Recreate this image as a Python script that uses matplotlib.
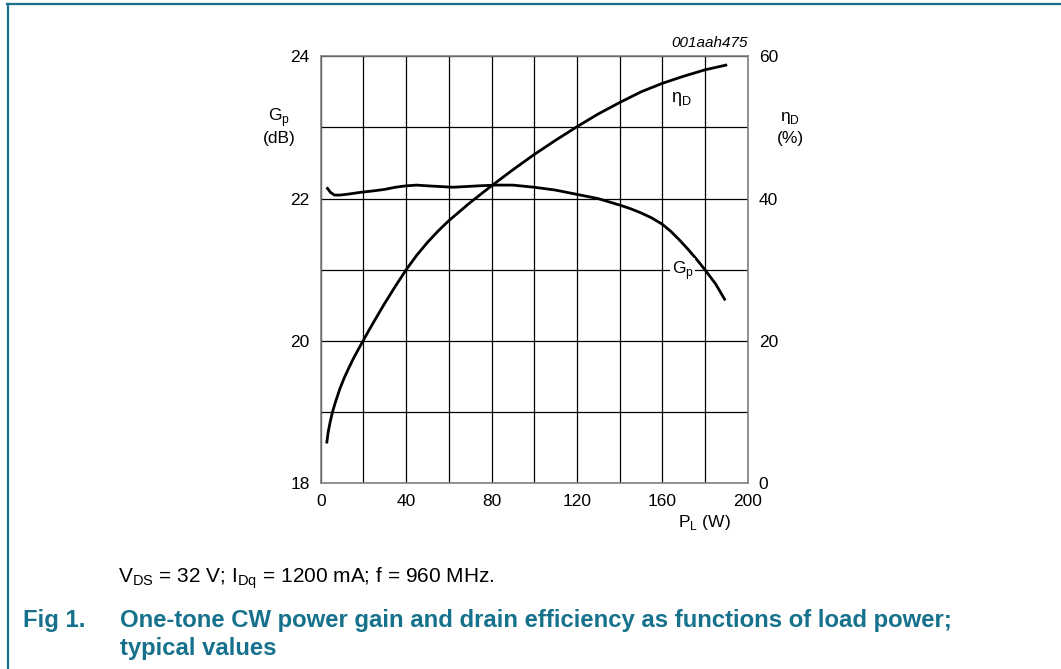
import matplotlib.pyplot as plt
from matplotlib.lines import Line2D

plt.rcParams['font.family'] = ['Liberation Sans', 'DejaVu Sans']

# load power (W) and power gain (dB)
pl_gain = [2.8, 4.5, 6.4, 9, 12, 19, 25, 30, 35, 40, 45, 50, 56, 62, 68, 74, 82, 90, 100, 110, 120, 130,
           140, 145, 150, 155, 160, 164, 168, 172, 176, 180, 185, 189.5]
gain = [22.16, 22.09, 22.05, 22.05, 22.06, 22.09, 22.11, 22.13, 22.16, 22.18, 22.19, 22.18, 22.17, 22.16,
        22.17, 22.18, 22.19, 22.19, 22.16, 22.12, 22.06, 22.0, 21.91, 21.86, 21.80, 21.73, 21.64, 21.54,
        21.42, 21.29, 21.15, 21.0, 20.8, 20.57]

# load power (W) and drain efficiency (%)
pl_eff = [2.8, 3.5, 4.5, 5.5, 7, 9, 11, 13, 15, 17.5, 20, 22.5, 25, 30, 35, 40, 45, 50, 55, 60, 70, 80,
          90, 100, 110, 120, 130, 140, 150, 160, 170, 180, 190.4]
eff = [5.6, 7.2, 8.7, 10.0, 11.5, 13.3, 14.8, 16.1, 17.35, 18.75, 20.1, 21.45, 22.75, 25.3, 27.7, 30.0,
       32.05, 33.85, 35.45, 36.9, 39.45, 41.8, 44.05, 46.2, 48.2, 50.1, 51.9, 53.5, 55.0, 56.2, 57.2, 58.1, 58.8]

x_ticks = [0, 40, 80, 120, 160, 200]
gain_ticks = [18, 20, 22, 24]
eff_ticks = [0, 20, 40, 60]

W, H = 1061, 669
teal = '#16718c'

fig = plt.figure(figsize=(W / 100, H / 100), dpi=100)
ax = fig.add_axes([320.7 / W, 1 - 483.3 / H, 427 / W, 427 / H])

ax.set_xlim(0, 200)
ax.set_ylim(18, 24)
ax.set_xticks(range(0, 201, 20))
ax.set_xticklabels([str(v) if v in x_ticks else '' for v in range(0, 201, 20)])
ax.set_yticks(range(18, 25))
ax.set_yticklabels([str(v) if v in gain_ticks else '' for v in range(18, 25)])
ax.grid(True, color='black', lw=0.9)
ax.tick_params(length=0, labelsize=12.5, pad=8)
for s in ax.spines.values():
    s.set_color('#808080')
    s.set_linewidth(1.2)

ax.plot(pl_gain, gain, color='black', lw=2.0, solid_capstyle='butt', zorder=3)

ax2 = ax.twinx()
ax2.set_ylim(0, 60)
ax2.set_yticks(eff_ticks)
ax2.tick_params(length=0, labelsize=12.5, pad=8)
for s in ax2.spines.values():
    s.set_visible(False)
ax2.plot(pl_eff, eff, color='black', lw=2.0, solid_capstyle='butt', zorder=3)

eta_d = r'$\mathregular{η}_\mathregular{D}$'
gp = r'G$_\mathregular{p}$'

# curve labels
ax.text(169, 23.4, eta_d, fontsize=13, ha='center', va='center')
ax.text(169.5, 20.99, gp, fontsize=12.5, ha='center', va='center',
        bbox=dict(facecolor='white', edgecolor='none', pad=1.0), zorder=4)

# axis titles
fig.text(279 / W, 1 - 118 / H, gp, fontsize=12.5, ha='center', va='center')
fig.text(279 / W, 1 - 138 / H, '(dB)', fontsize=12.5, ha='center', va='center')
fig.text(790 / W, 1 - 118 / H, eta_d, fontsize=12.5, ha='center', va='center')
fig.text(790 / W, 1 - 138 / H, '(%)', fontsize=12.5, ha='center', va='center')
fig.text(704 / W, 1 - 522 / H, r'P$_\mathregular{L}$ (W)', fontsize=12.5, ha='center', va='center')
fig.text(748 / W, 1 - 43 / H, '001aah475', fontsize=11, style='italic', ha='right', va='center')

# caption
fig.text(118 / W, 1 - 578 / H, r'V$_\mathregular{DS}$ = 32 V; I$_\mathregular{Dq}$ = 1200 mA; f = 960 MHz.',
         fontsize=15, ha='left', va='center')
fig.text(23 / W, 1 - 620 / H, 'Fig 1.', fontsize=17.2, weight='bold', color=teal, ha='left', va='center')
fig.text(120 / W, 1 - 620 / H, 'One-tone CW power gain and drain efficiency as functions of load power;',
         fontsize=17.2, weight='bold', color=teal, ha='left', va='center')
fig.text(120 / W, 1 - 648 / H, 'typical values', fontsize=17.2, weight='bold', color=teal, ha='left', va='center')

# frame
fig.add_artist(Line2D([7 / W, 1], [1 - 3.5 / H, 1 - 3.5 / H], color=teal, lw=1.6, transform=fig.transFigure))
fig.add_artist(Line2D([7.5 / W, 7.5 / W], [0, 1 - 3.5 / H], color=teal, lw=1.6, transform=fig.transFigure))

fig.savefig('out.png', dpi=100)
